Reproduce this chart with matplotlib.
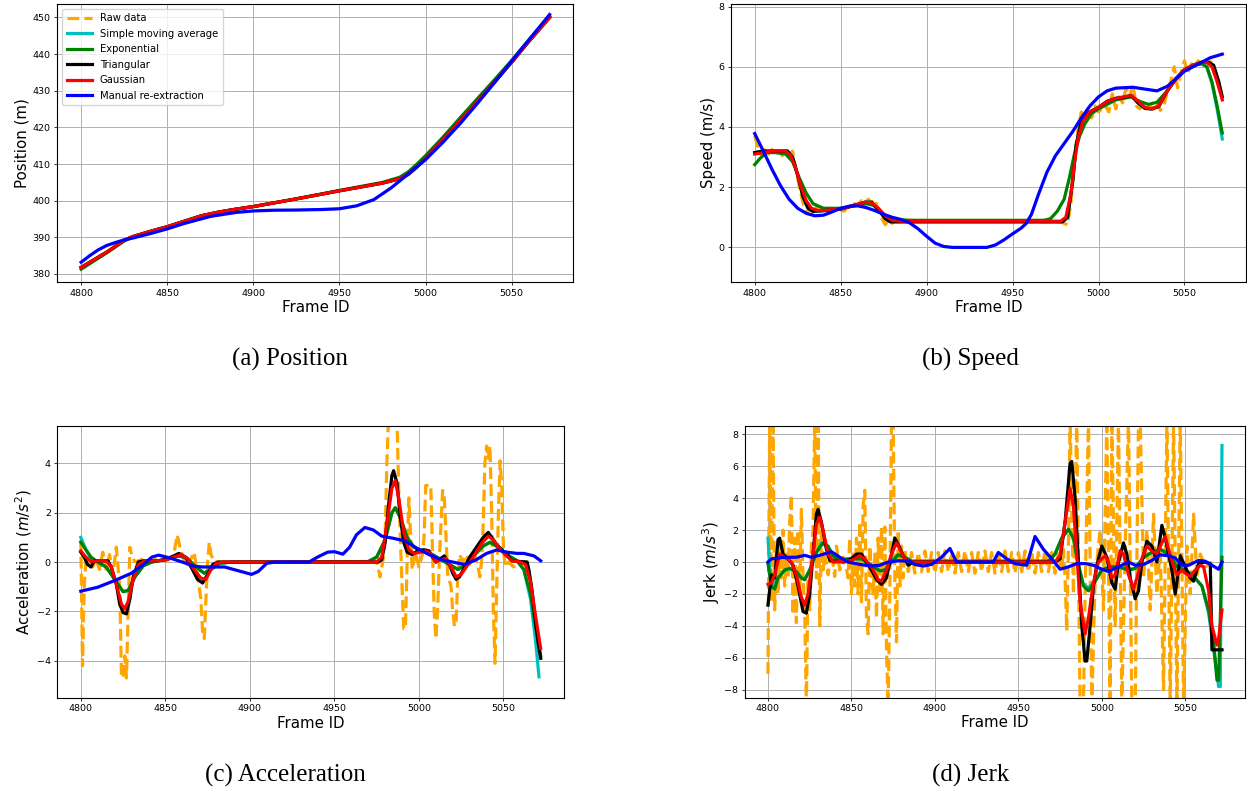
import matplotlib.pyplot as plt
import numpy as np

# ---------------- data ----------------
series_labels = ['Raw data', 'Simple moving average', 'Exponential',
                 'Triangular', 'Gaussian', 'Manual re-extraction']
frame_ticks = [4800, 4850, 4900, 4950, 5000, 5050]

# (a) position, m
pos_smooth = [(4800, 381.8), (4805, 383.2), (4810, 384.6), (4815, 386.0), (4820, 387.6),
              (4825, 389.2), (4830, 390.2), (4840, 391.6), (4850, 392.9), (4860, 394.4),
              (4870, 395.9), (4880, 396.9), (4890, 397.7), (4900, 398.4), (4925, 400.5),
              (4950, 402.7), (4975, 404.8), (4985, 406.0), (4990, 407.2), (4995, 409.2),
              (5000, 411.6), (5010, 416.6), (5020, 421.8), (5030, 427.0), (5040, 432.4),
              (5050, 437.8), (5060, 443.5), (5072, 450.0)]
pos_exp = [(4800, 381.3), (4805, 382.8), (4810, 384.3), (4815, 385.8), (4820, 387.4),
           (4825, 389.0), (4830, 390.1), (4840, 391.6), (4850, 392.9), (4860, 394.4),
           (4870, 395.9), (4880, 396.9), (4890, 397.7), (4900, 398.4), (4925, 400.5),
           (4950, 402.8), (4975, 405.0), (4985, 406.4), (4990, 407.9), (4995, 410.0),
           (5000, 412.3), (5010, 417.3), (5020, 422.6), (5030, 427.8), (5040, 433.0),
           (5050, 438.3), (5060, 443.9), (5072, 450.3)]
pos_manual = [(4800, 383.2), (4805, 385.0), (4810, 386.6), (4815, 387.8), (4820, 388.6),
              (4825, 389.3), (4830, 389.8), (4840, 391.0), (4850, 392.3), (4860, 393.8),
              (4875, 395.7), (4890, 396.8), (4900, 397.2), (4912, 397.4), (4925, 397.45),
              (4940, 397.6), (4950, 397.8), (4960, 398.6), (4970, 400.3), (4980, 403.5),
              (4990, 407.3), (5000, 411.2), (5010, 415.9), (5020, 421.0), (5030, 426.5),
              (5040, 432.2), (5050, 438.1), (5060, 443.9), (5072, 450.8)]

# (b) speed, m/s
spd_raw = [(4800, 3.7), (4802, 3.3), (4804, 3.05), (4806, 3.3), (4808, 3.1), (4810, 3.25),
           (4812, 3.1), (4814, 3.2), (4816, 3.05), (4818, 3.25), (4820, 3.1), (4822, 3.2),
           (4824, 2.6), (4826, 2.0), (4828, 1.5), (4830, 1.15), (4832, 1.25), (4834, 1.15),
           (4836, 1.35), (4838, 1.2), (4840, 1.3), (4842, 1.2), (4844, 1.3), (4846, 1.2),
           (4848, 1.3), (4850, 1.25), (4852, 1.2), (4854, 1.35), (4856, 1.3), (4858, 1.45),
           (4860, 1.4), (4862, 1.55), (4864, 1.45), (4866, 1.6), (4868, 1.5), (4870, 1.6),
           (4872, 1.2), (4874, 0.95), (4876, 0.75), (4878, 0.95), (4880, 0.8), (4882, 0.9),
           (4884, 0.85), (4886, 0.9), (4978, 0.85), (4980, 0.8), (4982, 0.75), (4984, 1.5),
           (4986, 3.0), (4988, 3.9), (4990, 4.5), (4992, 4.2), (4994, 4.6), (4996, 4.3),
           (4998, 4.7), (5000, 4.5), (5002, 4.6), (5004, 4.7), (5006, 4.5), (5008, 5.1),
           (5010, 4.6), (5012, 5.0), (5014, 4.8), (5016, 5.3), (5018, 5.0), (5020, 5.4),
           (5022, 4.7), (5024, 4.6), (5026, 4.8), (5028, 4.6), (5030, 4.7), (5032, 4.6),
           (5034, 4.8), (5036, 4.55), (5038, 4.7), (5040, 5.2), (5042, 5.5), (5044, 6.0),
           (5046, 5.3), (5048, 5.8), (5050, 6.2), (5052, 5.8), (5054, 6.1), (5056, 6.0),
           (5058, 6.2), (5060, 6.1), (5062, 6.2), (5064, 6.1), (5066, 6.2)]
spd_sma = [(4800, 3.15), (4805, 3.2), (4810, 3.2), (4819, 3.2), (4822, 3.0), (4825, 2.4),
           (4828, 1.7), (4831, 1.3), (4834, 1.2), (4840, 1.22), (4850, 1.27), (4858, 1.4),
           (4864, 1.5), (4868, 1.5), (4872, 1.25), (4876, 0.95), (4879, 0.85), (4979, 0.85),
           (4982, 1.0), (4985, 2.2), (4987, 3.4), (4990, 4.2), (4995, 4.5), (5000, 4.65),
           (5005, 4.85), (5010, 4.95), (5019, 5.05), (5023, 4.8), (5027, 4.62), (5031, 4.6),
           (5035, 4.68), (5040, 5.2), (5045, 5.6), (5050, 5.9), (5055, 6.05), (5060, 6.1),
           (5063, 6.0), (5066, 5.45), (5069, 4.6), (5072, 3.6)]
spd_exp = [(4800, 2.75), (4803, 2.95), (4807, 3.15), (4812, 3.15), (4818, 3.1), (4822, 2.85),
           (4826, 2.3), (4830, 1.8), (4834, 1.45), (4840, 1.3), (4850, 1.3), (4858, 1.38),
           (4865, 1.45), (4869, 1.4), (4873, 1.2), (4877, 1.0), (4882, 0.92), (4890, 0.9),
           (4968, 0.9), (4972, 0.95), (4976, 1.2), (4980, 1.6), (4983, 2.3), (4986, 3.1),
           (4989, 3.7), (4992, 4.1), (4996, 4.45), (5000, 4.6), (5005, 4.75), (5010, 4.9),
           (5019, 5.0), (5024, 4.85), (5029, 4.75), (5034, 4.82), (5040, 5.2), (5045, 5.6),
           (5050, 5.9), (5055, 6.05), (5060, 6.1), (5063, 6.0), (5066, 5.5), (5069, 4.7),
           (5072, 3.8)]
spd_tri = [(4800, 3.15), (4805, 3.2), (4810, 3.2), (4819, 3.2), (4822, 3.0), (4825, 2.4),
           (4828, 1.7), (4831, 1.3), (4834, 1.2), (4840, 1.22), (4850, 1.27), (4858, 1.4),
           (4864, 1.5), (4868, 1.5), (4872, 1.25), (4876, 0.95), (4879, 0.85), (4979, 0.85),
           (4982, 1.0), (4985, 2.2), (4987, 3.4), (4990, 4.2), (4995, 4.5), (5000, 4.65),
           (5005, 4.85), (5010, 4.95), (5015, 4.98), (5019, 5.05), (5023, 4.8), (5027, 4.62),
           (5031, 4.6), (5035, 4.68), (5040, 5.2), (5045, 5.6), (5050, 5.9), (5055, 6.05),
           (5060, 6.15), (5064, 6.15), (5067, 6.05), (5070, 5.5), (5072, 5.0)]
spd_gauss = [(4800, 3.1), (4805, 3.15), (4810, 3.2), (4818, 3.2), (4821, 3.05), (4824, 2.6),
             (4827, 2.0), (4830, 1.55), (4833, 1.3), (4837, 1.22), (4845, 1.25), (4852, 1.3),
             (4858, 1.4), (4864, 1.5), (4868, 1.48), (4872, 1.3), (4876, 1.05), (4880, 0.9),
             (4885, 0.87), (4978, 0.87), (4981, 1.0), (4984, 1.8), (4986, 2.8), (4988, 3.6),
             (4991, 4.2), (4995, 4.5), (5000, 4.65), (5005, 4.85), (5010, 4.95), (5015, 5.0),
             (5019, 5.05), (5023, 4.85), (5027, 4.65), (5031, 4.6), (5035, 4.7), (5040, 5.2),
             (5045, 5.6), (5050, 5.9), (5055, 6.05), (5060, 6.15), (5063, 6.15), (5066, 6.0),
             (5069, 5.5), (5072, 4.9)]
spd_manual = [(4800, 3.78), (4805, 3.2), (4810, 2.6), (4815, 2.05), (4820, 1.6), (4825, 1.3),
              (4830, 1.13), (4835, 1.05), (4840, 1.07), (4845, 1.18), (4850, 1.3), (4855, 1.37),
              (4860, 1.38), (4865, 1.32), (4870, 1.22), (4875, 1.1), (4880, 1.0), (4885, 0.93),
              (4890, 0.82), (4895, 0.62), (4900, 0.37), (4905, 0.14), (4910, 0.03), (4915, 0.0),
              (4935, 0.0), (4940, 0.08), (4945, 0.25), (4950, 0.45), (4955, 0.64), (4958, 0.8),
              (4961, 1.1), (4965, 1.75), (4970, 2.5), (4975, 3.05), (4980, 3.45), (4985, 3.85),
              (4990, 4.3), (4995, 4.7), (5000, 5.0), (5005, 5.2), (5010, 5.29), (5020, 5.32),
              (5028, 5.25), (5034, 5.2), (5040, 5.35), (5045, 5.6), (5050, 5.85), (5055, 6.0),
              (5060, 6.15), (5065, 6.3), (5072, 6.42)]

# (c) acceleration, m/s^2
acc_raw = [(4800, 0.9), (4801, -4.2), (4802, -1.0), (4803, 0.0), (4805, 0.1), (4807, -0.2),
           (4809, 0.1), (4811, -0.3), (4813, 0.4), (4815, -0.3), (4817, 0.3), (4819, -0.5),
           (4821, 0.6), (4823, -1.0), (4824, -4.5), (4825, -4.7), (4826, -3.8), (4827, -4.7),
           (4828, -2.0), (4829, 0.6), (4830, 0.3), (4832, 0.0), (4836, 0.1), (4840, 0.0),
           (4844, 0.1), (4848, 0.0), (4852, 0.1), (4855, 0.3), (4857, 1.1), (4859, 0.5),
           (4861, 0.1), (4863, -0.2), (4865, 0.1), (4867, 0.4), (4869, -0.5), (4871, -1.5),
           (4872, -2.8), (4873, -3.1), (4874, -1.5), (4875, 0.0), (4876, 0.8), (4877, 0.3),
           (4879, 0.0), (4975, 0.0), (4977, -0.6), (4979, 0.2), (4980, 1.0), (4981, 4.0),
           (4982, 5.8), (4987, 5.8), (4988, 3.0), (4989, 1.0), (4990, -1.0), (4991, -2.7),
           (4992, -2.7), (4993, 0.0), (4994, 2.6), (4995, 1.2), (4996, -0.3), (4998, 0.4),
           (5000, -0.2), (5002, 0.3), (5003, 1.0), (5004, 3.1), (5007, 3.1), (5008, 0.5),
           (5009, -2.0), (5010, -3.1), (5011, -2.0), (5012, 0.0), (5013, 1.5), (5014, 2.9),
           (5015, 2.6), (5016, 1.0), (5017, -0.5), (5019, -1.0), (5020, -2.0), (5021, -2.6),
           (5022, -2.4), (5023, -0.5), (5024, 0.3), (5026, 0.0), (5028, 0.3), (5030, -0.1),
           (5033, 0.3), (5035, -0.2), (5036, -0.6), (5037, 0.0), (5038, 1.5), (5039, 4.0),
           (5040, 4.7), (5041, 4.2), (5042, 4.7), (5043, 2.0), (5044, -2.0), (5045, -4.1),
           (5046, -1.0), (5047, 2.0), (5048, 4.1), (5049, 3.0), (5050, 0.5), (5051, -0.2),
           (5053, 0.0), (5056, -0.2), (5060, 0.0), (5064, 0.0)]
acc_sma = [(4800, 1.0), (4803, 0.5), (4806, 0.15), (4810, 0.0), (4815, -0.2), (4820, -0.7),
           (4825, -1.2), (4828, -1.15), (4832, -0.6), (4837, -0.15), (4842, 0.0), (4850, 0.1),
           (4858, 0.25), (4863, 0.15), (4868, -0.2), (4873, -0.45), (4877, -0.3), (4882, -0.05),
           (4890, 0.0), (4970, 0.02), (4975, 0.2), (4980, 0.9), (4984, 2.0), (4986, 2.2),
           (4989, 1.8), (4993, 1.0), (4997, 0.6), (5002, 0.45), (5008, 0.3), (5013, 0.1),
           (5018, -0.1), (5023, -0.3), (5028, -0.1), (5033, 0.3), (5038, 0.65), (5042, 0.8),
           (5047, 0.6), (5052, 0.3), (5058, 0.05), (5062, -0.3), (5066, -1.5), (5069, -3.2),
           (5071, -4.65)]
acc_exp = [(4800, 0.8), (4803, 0.5), (4806, 0.2), (4810, 0.0), (4815, -0.2), (4820, -0.7),
           (4825, -1.2), (4828, -1.15), (4832, -0.6), (4837, -0.15), (4842, 0.0), (4850, 0.1),
           (4858, 0.25), (4863, 0.15), (4868, -0.2), (4873, -0.45), (4877, -0.3), (4882, -0.05),
           (4890, 0.0), (4970, 0.02), (4975, 0.2), (4980, 0.9), (4984, 2.0), (4986, 2.2),
           (4989, 1.8), (4993, 1.0), (4997, 0.6), (5002, 0.45), (5008, 0.3), (5013, 0.1),
           (5018, -0.1), (5023, -0.3), (5028, -0.1), (5033, 0.3), (5038, 0.65), (5042, 0.8),
           (5047, 0.6), (5052, 0.3), (5058, 0.05), (5062, -0.3), (5066, -1.3), (5069, -2.6),
           (5072, -3.8)]
acc_tri = [(4800, 0.4), (4802, 0.2), (4804, -0.1), (4806, -0.2), (4808, 0.05), (4816, 0.05),
           (4818, -0.2), (4821, -0.9), (4823, -1.7), (4825, -2.05), (4827, -2.1), (4829, -1.5),
           (4831, -0.6), (4834, 0.0), (4837, 0.05), (4845, 0.05), (4850, 0.1), (4855, 0.25),
           (4858, 0.35), (4862, 0.2), (4866, -0.3), (4869, -0.7), (4872, -0.85), (4875, -0.5),
           (4878, -0.1), (4881, 0.0), (4976, 0.0), (4978, 0.1), (4980, 0.8), (4982, 2.3),
           (4984, 3.5), (4985, 3.7), (4987, 3.2), (4989, 1.8), (4991, 0.8), (4993, 0.4),
           (4996, 0.3), (4999, 0.45), (5003, 0.5), (5006, 0.45), (5008, 0.2), (5010, 0.0),
           (5012, 0.1), (5015, 0.25), (5018, -0.1), (5020, -0.45), (5022, -0.7), (5024, -0.6),
           (5027, -0.2), (5030, 0.2), (5034, 0.6), (5038, 1.0), (5041, 1.2), (5043, 1.0),
           (5046, 0.7), (5049, 0.5), (5052, 0.3), (5055, 0.05), (5064, 0.0), (5065, -0.3),
           (5067, -1.2), (5069, -2.5), (5071, -3.5), (5072, -3.9)]
acc_gauss = [(4800, 0.45), (4803, 0.2), (4806, 0.02), (4810, 0.05), (4815, 0.05), (4818, -0.2),
             (4821, -0.9), (4824, -1.7), (4826, -1.9), (4828, -1.6), (4831, -0.7), (4834, -0.1),
             (4838, 0.05), (4845, 0.05), (4850, 0.08), (4855, 0.2), (4859, 0.3), (4863, 0.15),
             (4867, -0.3), (4871, -0.65), (4874, -0.7), (4877, -0.3), (4880, -0.05), (4885, 0.0),
             (4975, 0.0), (4978, 0.2), (4981, 1.5), (4984, 3.0), (4986, 3.3), (4988, 2.6),
             (4991, 1.2), (4994, 0.5), (4997, 0.35), (5001, 0.4), (5004, 0.45), (5007, 0.35),
             (5010, 0.0), (5013, 0.1), (5016, 0.15), (5019, -0.2), (5022, -0.6), (5025, -0.5),
             (5029, -0.1), (5033, 0.3), (5037, 0.75), (5041, 1.05), (5044, 0.9), (5047, 0.6),
             (5051, 0.3), (5055, 0.05), (5060, 0.0), (5063, -0.1), (5066, -0.8), (5069, -2.2),
             (5072, -3.5)]
acc_manual = [(4800, -1.18), (4810, -1.02), (4820, -0.75), (4830, -0.45), (4837, -0.1),
              (4842, 0.2), (4846, 0.28), (4852, 0.18), (4860, 0.0), (4867, -0.17), (4872, -0.2),
              (4885, -0.2), (4893, -0.35), (4901, -0.5), (4905, -0.38), (4910, -0.05),
              (4915, 0.0), (4935, 0.0), (4940, 0.2), (4946, 0.4), (4950, 0.42), (4955, 0.32),
              (4959, 0.6), (4963, 1.1), (4968, 1.4), (4973, 1.3), (4978, 1.05), (4985, 0.96),
              (4992, 0.85), (4999, 0.55), (5006, 0.3), (5013, 0.1), (5020, 0.0), (5027, -0.1),
              (5034, 0.1), (5040, 0.35), (5046, 0.49), (5052, 0.4), (5058, 0.35), (5062, 0.35),
              (5068, 0.25), (5072, 0.05)]

# (d) jerk, m/s^3
jerk_raw = [(4800, -7.0), (4801, 9.0), (4802, -2.5), (4803, 9.0), (4804, -3.0), (4805, 0.5),
            (4806, -2.0), (4807, 1.0), (4808, -1.0), (4809, 2.0), (4810, -1.5), (4811, 0.5),
            (4812, -1.0), (4813, 2.5), (4814, 4.2), (4815, -3.3), (4816, 1.5), (4817, -3.8),
            (4818, 2.0), (4819, -2.0), (4820, 3.3), (4821, -1.0), (4822, -3.0), (4823, -9.0),
            (4824, -1.0), (4825, -3.0), (4826, 1.0), (4827, 2.0), (4828, 9.0), (4829, -1.0),
            (4830, 9.0), (4831, -4.0), (4832, 2.0), (4833, -0.5), (4834, 0.5), (4836, -0.8),
            (4838, 0.7), (4840, -0.9), (4841, 1.0), (4843, -0.5), (4845, 0.3), (4847, -0.4),
            (4848, -1.0), (4849, 1.5), (4850, -2.0), (4851, 0.5), (4852, -1.5), (4853, 1.5),
            (4854, -2.0), (4855, 2.5), (4856, -2.5), (4857, 3.5), (4858, 4.5), (4859, -3.5),
            (4860, -4.5), (4861, 1.0), (4862, -1.0), (4863, -2.0), (4864, 0.5), (4865, -3.5),
            (4866, 1.5), (4867, -2.0), (4868, 2.2), (4869, -4.5), (4870, 2.2), (4871, -5.5),
            (4872, -9.0), (4873, -2.0), (4874, 9.0), (4875, 9.0), (4876, -1.0), (4877, -5.0),
            (4878, 2.0), (4879, -1.5), (4880, 1.0), (4881, -1.0), (4882, 0.7), (4884, -0.6),
            (4886, 0.6), (4888, -0.7), (4890, 0.6), (4892, -0.6), (4894, 0.7), (4896, -0.6),
            (4898, 0.6), (4900, -0.7), (4902, 0.6), (4904, -0.6), (4906, 0.7), (4908, -0.6),
            (4910, 0.6), (4912, -0.7), (4914, 0.6), (4916, -0.6), (4918, 0.7), (4920, -0.6),
            (4922, 0.6), (4924, -0.7), (4926, 0.6), (4928, -0.6), (4930, 0.7), (4932, -0.6),
            (4934, 0.6), (4936, -0.7), (4938, 0.6), (4940, -0.6), (4942, 0.7), (4944, -0.6),
            (4946, 0.6), (4948, -0.7), (4950, 0.6), (4952, -0.6), (4954, 0.7), (4956, -0.6),
            (4958, 0.6), (4960, -0.7), (4962, 0.6), (4964, -0.6), (4966, 0.7), (4968, -0.6),
            (4970, 0.6), (4972, -0.7), (4974, 0.6), (4976, -0.6), (4977, 0.8), (4978, -1.0),
            (4979, -4.3), (4980, 1.0), (4981, 9.0), (4983, -2.0), (4985, 9.0), (4987, -9.0),
            (4989, -9.0), (4990, -2.0), (4992, 9.0), (4994, -9.0), (4996, -1.0), (4999, 2.0),
            (5001, -3.0), (5003, 9.0), (5005, -9.0), (5006, 9.0), (5008, -4.0), (5010, 9.0),
            (5012, -9.0), (5014, 1.0), (5016, 9.0), (5018, -9.0), (5020, -9.0), (5022, 9.0),
            (5023, 9.0), (5025, -1.0), (5027, 2.0), (5029, -3.0), (5031, 3.0), (5033, -2.0),
            (5035, 1.0), (5037, -8.0), (5039, 9.0), (5041, -9.0), (5043, 9.0), (5045, -9.0),
            (5047, 9.0), (5049, -9.0), (5051, 1.0), (5053, -2.0), (5055, 3.0), (5057, -1.0),
            (5059, 0.5), (5062, -0.3), (5066, 0.0)]
jerk_sma = [(4800, 1.5), (4801, -0.3), (4803, -1.4), (4806, -1.0), (4810, -0.5), (4813, -0.4),
            (4817, -0.6), (4820, -1.0), (4822, -1.1), (4825, -0.5), (4829, 0.6), (4832, 1.2),
            (4835, 1.0), (4838, 0.4), (4842, 0.15), (4850, 0.2), (4856, 0.2), (4862, -0.2),
            (4867, -0.55), (4870, -0.5), (4874, 0.0), (4878, 0.45), (4882, 0.3), (4886, 0.05),
            (4968, 0.05), (4972, 0.5), (4976, 1.5), (4980, 2.05), (4983, 1.5), (4986, -0.2),
            (4989, -1.4), (4992, -1.6), (4996, -1.2), (5000, -0.5), (5005, -0.3), (5010, -0.3),
            (5016, -0.5), (5020, -0.4), (5025, 0.3), (5030, 0.6), (5035, 0.8), (5040, 0.5),
            (5045, -0.3), (5050, -0.5), (5055, -0.9), (5060, -1.5), (5064, -3.2), (5067, -5.5),
            (5070, -7.8), (5071, -7.8), (5072, 7.3)]
jerk_exp = [(4800, -0.1), (4802, -1.5), (4804, -1.7), (4806, -1.0), (4810, -0.5), (4813, -0.4),
            (4817, -0.6), (4820, -1.0), (4822, -1.1), (4825, -0.5), (4829, 0.6), (4833, 1.2),
            (4836, 1.0), (4839, 0.4), (4842, 0.15), (4850, 0.2), (4856, 0.2), (4862, -0.2),
            (4867, -0.55), (4870, -0.5), (4874, 0.0), (4878, 0.45), (4882, 0.3), (4886, 0.05),
            (4968, 0.05), (4972, 0.5), (4976, 1.5), (4980, 2.05), (4983, 1.5), (4986, -0.2),
            (4989, -1.5), (4992, -1.8), (4996, -1.2), (5000, -0.5), (5005, -0.3), (5010, -0.3),
            (5016, -0.5), (5020, -0.4), (5025, 0.3), (5030, 0.6), (5035, 0.8), (5040, 0.5),
            (5045, -0.3), (5050, -0.5), (5055, -0.9), (5060, -1.5), (5064, -3.0), (5067, -5.0),
            (5069, -7.4), (5070, -7.4), (5072, 0.3)]
jerk_tri = [(4800, -2.7), (4802, -0.8), (4804, -1.0), (4806, 1.4), (4807, 1.5), (4809, 0.5),
            (4812, 0.2), (4815, -0.2), (4818, -1.5), (4821, -3.1), (4823, -3.2), (4825, -2.0),
            (4827, 0.5), (4829, 3.0), (4830, 3.3), (4832, 2.5), (4835, 0.8), (4837, 0.1),
            (4845, 0.0), (4850, 0.2), (4853, 0.5), (4856, 0.5), (4859, 0.0), (4862, -0.5),
            (4865, -1.1), (4868, -1.4), (4871, -1.0), (4873, 0.0), (4876, 1.5), (4878, 1.1),
            (4882, 0.2), (4884, -0.2), (4887, 0.0), (4972, 0.0), (4975, 0.2), (4978, 2.5),
            (4981, 6.2), (4982, 6.3), (4984, 4.0), (4986, 0.0), (4988, -4.0), (4990, -6.2),
            (4991, -6.2), (4993, -4.0), (4995, -1.5), (4997, -0.2), (5000, 1.0), (5003, 0.3),
            (5006, -1.3), (5008, -1.7), (5010, 0.0), (5013, 1.2), (5015, 0.5), (5017, -1.0),
            (5020, -2.3), (5022, -1.8), (5024, 0.0), (5027, 1.3), (5030, 1.0), (5033, 0.0),
            (5036, 2.3), (5038, 1.5), (5040, 0.5), (5042, -0.5), (5044, -2.0), (5046, -0.5),
            (5047, 0.4), (5050, -0.3), (5053, -1.0), (5055, -1.2), (5058, -0.1), (5062, 0.0),
            (5065, -0.1), (5066, -5.5), (5072, -5.5)]
jerk_gauss = [(4800, -1.4), (4802, -1.3), (4804, -0.8), (4807, 0.5), (4810, 0.3), (4814, 0.0),
              (4817, -0.8), (4820, -2.2), (4822, -2.7), (4824, -2.0), (4827, 0.5), (4829, 2.4),
              (4831, 2.8), (4833, 2.0), (4836, 0.5), (4839, 0.0), (4850, 0.1), (4855, 0.4),
              (4858, 0.2), (4862, -0.3), (4866, -1.1), (4868, -1.2), (4871, -0.5), (4874, 0.5),
              (4877, 1.2), (4879, 0.8), (4882, 0.2), (4885, 0.0), (4972, 0.0), (4975, 0.4),
              (4978, 2.5), (4981, 4.6), (4983, 3.5), (4985, 0.5), (4987, -2.5), (4990, -4.5),
              (4992, -3.5), (4995, -1.3), (4998, 0.0), (5002, 0.4), (5004, 0.0), (5006, -1.0),
              (5008, -0.8), (5011, 0.7), (5013, 0.5), (5016, -0.8), (5019, -1.7), (5021, -1.0),
              (5024, 0.2), (5027, 1.0), (5030, 0.7), (5033, 0.5), (5036, 1.2), (5038, 1.6),
              (5040, 0.8), (5043, -0.3), (5045, -0.8), (5048, -0.5), (5050, -0.7), (5053, -0.9),
              (5056, -0.5), (5059, -0.2), (5061, -0.3), (5064, -1.8), (5066, -4.0), (5069, -5.2),
              (5070, -4.8), (5072, -3.0)]
jerk_manual = [(4800, 0.0), (4802, 0.2), (4810, 0.3), (4817, 0.3), (4822, 0.42), (4826, 0.3),
               (4832, 0.45), (4838, 0.65), (4843, 0.3), (4848, 0.0), (4855, -0.15), (4862, -0.25),
               (4867, -0.2), (4872, 0.0), (4878, 0.08), (4885, 0.05), (4888, -0.15), (4893, -0.25),
               (4898, -0.15), (4904, 0.3), (4909, 0.85), (4913, 0.0), (4935, 0.0), (4938, 0.6),
               (4943, 0.2), (4948, -0.1), (4955, -0.2), (4960, 1.6), (4965, 0.8), (4970, 0.2),
               (4975, -0.45), (4980, -0.3), (4985, -0.1), (4990, -0.1), (4995, -0.2), (5000, -0.45),
               (5004, -0.6), (5008, -0.4), (5012, -0.2), (5016, 0.0), (5020, -0.2), (5025, -0.15),
               (5030, 0.1), (5035, 0.45), (5040, 0.4), (5044, 0.25), (5048, -0.2), (5052, -0.2),
               (5058, 0.1), (5062, 0.05), (5066, -0.2), (5070, -0.45), (5072, 0.0)]

panels = [
    ([pos_smooth, pos_smooth, pos_exp, pos_smooth, pos_smooth, pos_manual],
     'Position (m)', (377.8, 453.8), [380, 390, 400, 410, 420, 430, 440, 450], '(a) Position'),
    ([spd_raw, spd_sma, spd_exp, spd_tri, spd_gauss, spd_manual],
     'Speed (m/s)', (-1.15, 8.1), [0, 2, 4, 6, 8], '(b) Speed'),
    ([acc_raw, acc_sma, acc_exp, acc_tri, acc_gauss, acc_manual],
     r'Acceleration ($m/s^2$)', (-5.5, 5.5), [-4, -2, 0, 2, 4], '(c) Acceleration'),
    ([jerk_raw, jerk_sma, jerk_exp, jerk_tri, jerk_gauss, jerk_manual],
     r'Jerk ($m/s^3$)', (-8.5, 8.5), [-8, -6, -4, -2, 0, 2, 4, 6, 8], '(d) Jerk'),
]

# ---------------- figure ----------------
colors = ['orange', 'c', 'g', 'k', 'r', 'b']
styles = ['--', '-', '-', '-', '-', '-']

fig = plt.figure(figsize=(12.47, 7.90), dpi=100)
axes_rects = [[0.0460, 0.643, 0.4138, 0.3525],
              [0.5862, 0.643, 0.4130, 0.3525],
              [0.0461, 0.1167, 0.4062, 0.3437],
              [0.5974, 0.1168, 0.4010, 0.3435]]
caption_pos = [(0.2326, 0.5455), (0.7780, 0.5455), (0.2286, 0.0185), (0.7780, 0.0185)]

for i, (series, ylabel, ylim, yticks, caption) in enumerate(panels):
    ax = fig.add_axes(axes_rects[i])
    for pts, lab, col, ls in zip(series, series_labels, colors, styles):
        x, y = zip(*pts)
        ax.plot(x, y, color=col, linestyle=ls, linewidth=2.3, label=lab)
    ax.set_xlim(4786.2, 5085.8)
    ax.set_ylim(*ylim)
    ax.set_xticks(frame_ticks)
    ax.set_yticks(yticks)
    ax.grid(True, color='#b0b0b0', linewidth=0.7)
    ax.tick_params(labelsize=6.8, length=2.4, width=0.55, pad=2.4)
    for sp in ax.spines.values():
        sp.set_linewidth(0.8)
    ax.set_xlabel('Frame ID', fontsize=10.8, labelpad=1.5)
    ax.set_ylabel(ylabel, fontsize=10.8, labelpad=2)
    if i == 0:
        ax.legend(loc='upper left', fontsize=7.2, handlelength=2.5,
                  labelspacing=0.55, borderpad=0.45)
    fig.text(caption_pos[i][0], caption_pos[i][1], caption, ha='center', va='center',
             fontsize=18, family='Liberation Serif')

fig.savefig('out.png', dpi=100)
